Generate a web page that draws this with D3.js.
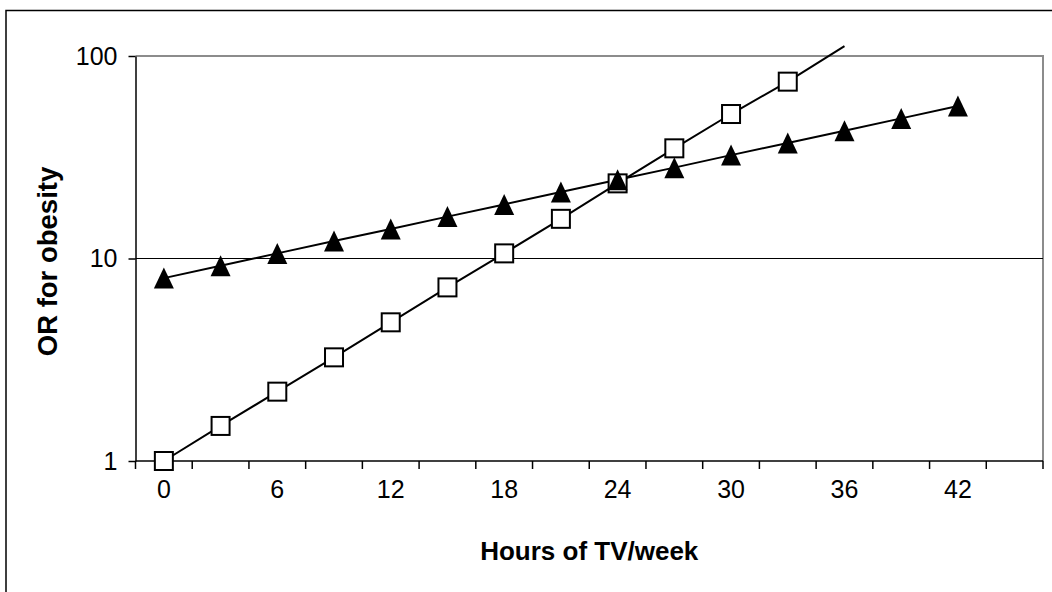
<!DOCTYPE html>
<html>
<head>
<meta charset="utf-8">
<script src="https://cdn.jsdelivr.net/npm/d3@7"></script>
<style>
  body { margin: 0; background: #fff; }
  svg { display: block; font-family: "Liberation Sans", Arial, sans-serif; }
  .tick text { font-size: 25px; fill: #000; }
  .axisTitle { font-size: 26px; font-weight: bold; fill: #000; }
</style>
</head>
<body>
<svg id="chart" width="1052" height="592"></svg>
<script>
// hours of TV per week (categories)
var hours = [0, 3, 6, 9, 12, 15, 18, 21, 24, 27, 30, 33, 36, 39, 42, 45];
// OR for obesity, square series (goes off the top after 33)
var orSquares = [1.0, 1.49, 2.2, 3.25, 4.84, 7.2, 10.6, 15.7, 23.5, 35, 51.7, 74.7, 112];
// OR for obesity, triangle series
var orTriangles = [8.0, 9.2, 10.6, 12.2, 14.0, 16.1, 18.5, 21.3, 24.5, 28.1, 32.4, 37.2, 42.7, 49.2, 56.6];
var yTicks = [1, 10, 100];
var xLabels = [0, 6, 12, 18, 24, 30, 36, 42];

var plotL = 135.5, plotR = 1043, plotT = 56, plotB = 461;

var svg = d3.select("#chart");

// outer chart border (only top/left visible in frame)
svg.append("rect")
  .attr("x", 6).attr("y", 10.5)
  .attr("width", 1100).attr("height", 700)
  .attr("fill", "none").attr("stroke", "#000").attr("stroke-width", 1.5);

var x = d3.scaleBand().domain(hours).range([plotL, plotR]).padding(0);
var y = d3.scaleLog().domain([1, 100]).range([plotB, plotT]);
function cx(h) { return x(h) + x.bandwidth() / 2; }

// plot area border (top + right grey)
svg.append("path")
  .attr("d", "M" + plotL + "," + plotT + "H" + plotR + "V" + plotB)
  .attr("fill", "none").attr("stroke", "#8c8c8c").attr("stroke-width", 2);

// gridline at 10
svg.append("line")
  .attr("x1", plotL).attr("x2", plotR)
  .attr("y1", y(10)).attr("y2", y(10))
  .attr("stroke", "#000").attr("stroke-width", 1);

// y axis
var yAxis = svg.append("g")
  .attr("transform", "translate(" + plotL + ",0)")
  .call(d3.axisLeft(y).tickValues(yTicks).tickFormat(d3.format("d")).tickSize(7).tickSizeOuter(0).tickPadding(11));
yAxis.select(".domain").attr("stroke", "#000").attr("stroke-width", 1.5);
yAxis.selectAll(".tick line").attr("stroke", "#000").attr("stroke-width", 1.5);

// x axis: labels at category centres, ticks on category boundaries
var xAxis = svg.append("g")
  .attr("transform", "translate(0," + plotB + ")")
  .call(d3.axisBottom(x).tickValues(xLabels).tickSize(0).tickSizeOuter(0).tickPadding(32));
xAxis.select(".domain").remove();
xAxis.selectAll(".tick text").attr("dy", "0.2em");

var bounds = hours.map(function (h) { return x(h); }).concat([plotR]);
svg.append("g").selectAll("line").data(bounds).join("line")
  .attr("x1", function (d) { return d; }).attr("x2", function (d) { return d; })
  .attr("y1", plotB).attr("y2", plotB + 8)
  .attr("stroke", "#000").attr("stroke-width", 1.5);
svg.append("line")
  .attr("x1", plotL).attr("x2", plotR)
  .attr("y1", plotB).attr("y2", plotB)
  .attr("stroke", "#000").attr("stroke-width", 1.5);

// axis titles
svg.append("text").attr("class", "axisTitle")
  .attr("x", (plotL + plotR) / 2).attr("y", 560)
  .attr("text-anchor", "middle").text("Hours of TV/week");
svg.append("text").attr("class", "axisTitle")
  .style("font-size", "27.5px")
  .attr("transform", "translate(57," + ((plotT + plotB) / 2 + 3) + ") rotate(-90)")
  .attr("text-anchor", "middle").text("OR for obesity");

var line = d3.line()
  .x(function (d, i) { return cx(hours[i]); })
  .y(function (d) { return y(d); });

// lines
svg.append("path").datum(orTriangles).attr("d", line)
  .attr("fill", "none").attr("stroke", "#000").attr("stroke-width", 2);
svg.append("path").datum(orSquares).attr("d", line)
  .attr("fill", "none").attr("stroke", "#000").attr("stroke-width", 2);

// square markers (hidden above axis max)
var sq = 18;
svg.append("g").selectAll("rect")
  .data(orSquares.map(function (v, i) { return { h: hours[i], v: v }; })
    .filter(function (d) { return d.v <= 100; }))
  .join("rect")
  .attr("x", function (d) { return cx(d.h) - sq / 2; })
  .attr("y", function (d) { return y(d.v) - sq / 2; })
  .attr("width", sq).attr("height", sq)
  .attr("fill", "#fff").attr("stroke", "#000").attr("stroke-width", 2);

// triangle markers
var tw = 20, th = 21;
svg.append("g").selectAll("path")
  .data(orTriangles.map(function (v, i) { return { h: hours[i], v: v }; }))
  .join("path")
  .attr("d", function (d) {
    var px = cx(d.h), py = y(d.v);
    return "M" + px + "," + (py - th / 2) + "L" + (px + tw / 2) + "," + (py + th / 2) +
      "L" + (px - tw / 2) + "," + (py + th / 2) + "Z";
  })
  .attr("fill", "#000");
</script>
</body>
</html>
